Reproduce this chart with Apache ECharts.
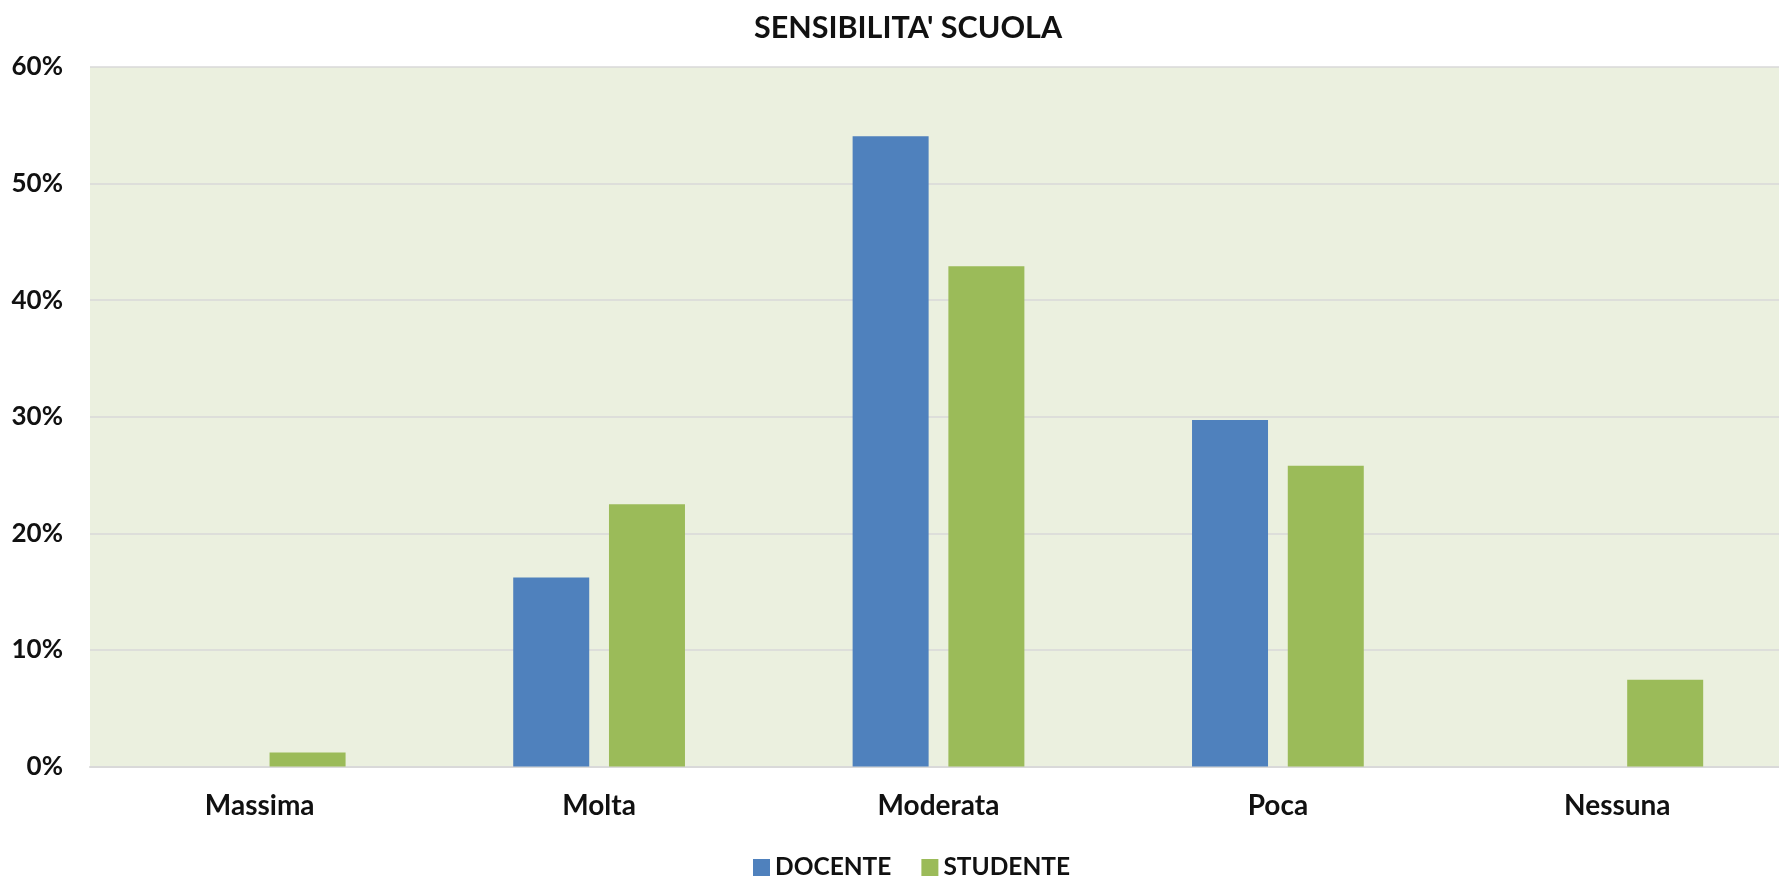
<!DOCTYPE html>
<html>
<head>
<meta charset="utf-8">
<script src="https://cdn.jsdelivr.net/npm/echarts@6/dist/echarts.min.js"></script>
<style>
html,body{margin:0;padding:0;background:#fff;overflow:hidden;}
#chart{width:1787px;height:876px;}
</style>
</head>
<body>
<div id="chart"></div>
<script>
const categories = ['Massima', 'Molta', 'Moderata', 'Poca', 'Nessuna'];
const docente = [0, 16.22, 54.05, 29.73, 0];
const studente = [1.2, 22.5, 42.9, 25.8, 7.45];
const seriesNames = ['DOCENTE', 'STUDENTE'];
const yTicks = { min: 0, max: 60, interval: 10 };

const FONT = 'Lato';
const chart = echarts.init(document.getElementById('chart'), null, { renderer: 'canvas' });
chart.setOption({
  animation: false,
  backgroundColor: '#ffffff',
  title: {
    text: "SENSIBILITA' SCUOLA",
    left: 903,
    textAlign: 'center',
    top: 8,
    textStyle: { fontFamily: FONT, fontWeight: 'bold', fontSize: 30.5, color: '#111111' }
  },
  legend: {
    data: seriesNames,
    left: 748,
    top: 850,
    itemWidth: 17,
    itemHeight: 17,
    itemGap: 30,
    icon: 'rect',
    textStyle: { fontFamily: FONT, fontWeight: 'bold', fontSize: 24.5, color: '#111111' }
  },
  grid: { left: 90, right: 0, top: 67, bottom: 109.5, containLabel: false,
          show: true, backgroundColor: '#ebf0df', borderWidth: 0 },
  xAxis: {
    type: 'category',
    data: categories,
    axisLine: { show: true, lineStyle: { color: '#d9d9d9', width: 2 } },
    axisTick: { show: false },
    axisLabel: { margin: 25, fontFamily: FONT, fontWeight: 'bold', fontSize: 28, color: '#111111' }
  },
  yAxis: {
    type: 'value',
    min: yTicks.min,
    max: yTicks.max,
    interval: yTicks.interval,
    axisLine: { show: false },
    axisTick: { show: false },
    splitLine: { lineStyle: { color: '#d9d9d9', width: 1.5 } },
    axisLabel: { formatter: '{value}%', margin: 27, fontFamily: FONT, fontWeight: 'bold', fontSize: 26, color: '#111111' }
  },
  series: [
    { name: seriesNames[0], type: 'bar', data: docente, barWidth: 76, barGap: '26%',
      itemStyle: { color: '#4f81bd' } },
    { name: seriesNames[1], type: 'bar', data: studente, barWidth: 76, barGap: '26%',
      itemStyle: { color: '#9bbb59' } }
  ]
});
</script>
</body>
</html>
